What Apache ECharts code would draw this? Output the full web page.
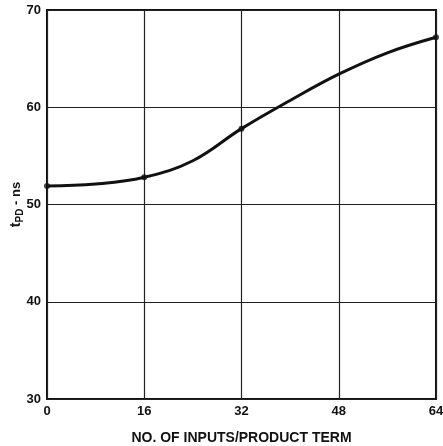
<!DOCTYPE html>
<html><head><meta charset="utf-8">
<script src="https://cdn.jsdelivr.net/npm/echarts@6/dist/echarts.min.js"></script>
<style>html,body{margin:0;padding:0;background:#fff}#c{width:443px;height:446px}</style>
</head><body><div id="c"></div>
<script>
const xValues = [0, 8, 16, 24, 32, 40, 48, 56, 64];
const tpdValues = [51.9, 52.1, 52.8, 54.5, 57.8, 60.7, 63.4, 65.6, 67.2];
const markedX = [0, 16, 32, 64];
const markedY = [51.9, 52.8, 57.8, 67.2];
const xTicks = [0, 16, 32, 48, 64];
const yTicks = [30, 40, 50, 60, 70];
const xTitle = 'NO. OF INPUTS/PRODUCT TERM';

const chart = echarts.init(document.getElementById('c'));
const font = '"Liberation Sans", Arial, sans-serif';
chart.setOption({
  animation: false,
  grid: {left: 47, right: 7, top: 10, bottom: 47, show: true, borderColor: '#111', borderWidth: 2,
         containLabel: false, outerBoundsMode: 'none'},
  xAxis: {
    type: 'value', min: xTicks[0], max: xTicks[xTicks.length-1], interval: 16,
    name: xTitle, nameLocation: 'middle', nameGap: 32, nameMoveOverlap: false,
    nameTextStyle: {fontFamily: font, fontWeight: 'bold', fontSize: 14, color: '#111'},
    axisLine: {show: false}, axisTick: {show: false},
    axisLabel: {fontFamily: font, fontWeight: 'bold', fontSize: 13, color: '#111', margin: 6},
    splitLine: {show: true, lineStyle: {color: '#222', width: 1.2}}
  },
  yAxis: {
    type: 'value', min: yTicks[0], max: yTicks[yTicks.length-1], interval: 10,
    name: '{t|t}{s|PD}{n| - ns}', nameLocation: 'middle', nameGap: 22, nameRotate: 90, nameMoveOverlap: false,
    nameTextStyle: {fontFamily: font, fontWeight: 'bold', color: '#111',
      rich: {t: {fontFamily: font, fontWeight: 'bold', fontSize: 14, color: '#111'},
             s: {fontFamily: font, fontWeight: 'bold', fontSize: 10, color: '#111', verticalAlign: 'bottom', padding: [7,0,0,0]},
             n: {fontFamily: font, fontWeight: 'bold', fontSize: 13, color: '#111'}}},
    axisLine: {show: false}, axisTick: {show: false},
    axisLabel: {fontFamily: font, fontWeight: 'bold', fontSize: 13, color: '#111', margin: 6},
    splitLine: {show: true, lineStyle: {color: '#222', width: 1.2}}
  },
  series: [{
    type: 'line', smooth: 0.4, showSymbol: false,
    data: xValues.map((x, i) => [x, tpdValues[i]]),
    lineStyle: {color: '#111', width: 3}
  }, {
    type: 'scatter', symbolSize: 6,
    data: markedX.map((x, i) => [x, markedY[i]]),
    itemStyle: {color: '#111'}
  }]
});
</script></body></html>
